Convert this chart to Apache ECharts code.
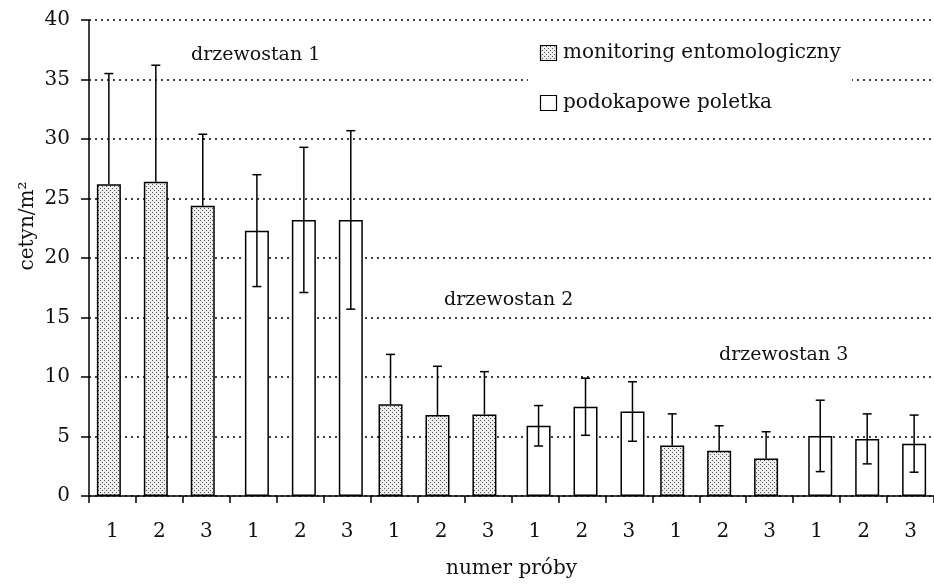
<!DOCTYPE html>
<html>
<head>
<meta charset="utf-8">
<script src="https://cdn.jsdelivr.net/npm/echarts@6/dist/echarts.min.js"></script>
<style>html,body{margin:0;padding:0;background:#fff}#c{width:934px;height:585px}</style>
</head>
<body>
<div id="c"></div>
<script>
// ---- data ----
const categories = ['1','2','3','1','2','3','1','2','3','1','2','3','1','2','3','1','2','3'];
const monitoring    = [26.2, 26.4, 24.4, null, null, null, 7.7, 6.8, 6.85, null, null, null, 4.25, 3.8, 3.15, null, null, null];
const monitoringErr = [9.3, 9.8, 6.0, null, null, null, 4.2, 4.1, 3.6, null, null, null, 2.65, 2.1, 2.25, null, null, null];
const poletka       = [null, null, null, 22.3, 23.2, 23.2, null, null, null, 5.9, 7.5, 7.1, null, null, null, 5.05, 4.8, 4.4];
const poletkaErr    = [null, null, null, 4.7, 6.1, 7.5, null, null, null, 1.7, 2.4, 2.5, null, null, null, 3.0, 2.1, 2.4];
const seriesNames = ['monitoring entomologiczny', 'podokapowe poletka'];
const standLabels = ['drzewostan 1', 'drzewostan 2', 'drzewostan 3'];
const yTicks = {min: 0, max: 40, interval: 5};

// ---- style ----
const FONT = 'DejaVu Serif';
const FS = 19;
const BAR_W = 24;
const BAR_GAP = -0.7;
const totalW = BAR_W * 2 + BAR_W * BAR_GAP;
const offsets = [-totalW / 2 + BAR_W / 2, totalW / 2 - BAR_W / 2];

function makePattern() {
  const c = document.createElement('canvas');
  c.width = 4; c.height = 4;
  const g = c.getContext('2d');
  g.fillStyle = '#eeeeee';
  g.fillRect(0, 0, 4, 4);
  g.fillStyle = '#555555';
  g.fillRect(0, 0, 1, 1);
  g.fillRect(2, 2, 1, 1);
  return c;
}
const pat = makePattern();
const dotFill = {image: pat, repeat: 'repeat'};

function errData(vals, errs) {
  const out = [];
  vals.forEach((v, i) => { if (v != null) out.push([i, v, errs[i]]); });
  return out;
}

function errRender(offset, plusOnly) {
  return function (params, api) {
    const i = api.value(0), v = api.value(1), e = api.value(2);
    const top = api.coord([i, v + e]);
    const low = api.coord([i, plusOnly ? v : v - e]);
    const x = top[0] + offset;
    const cap = 4.5;
    const st = {stroke: '#000', lineWidth: 1.5};
    const children = [
      {type: 'line', shape: {x1: x, y1: top[1], x2: x, y2: low[1]}, style: st},
      {type: 'line', shape: {x1: x - cap, y1: top[1], x2: x + cap, y2: top[1]}, style: st}
    ];
    if (!plusOnly) children.push({type: 'line', shape: {x1: x - cap, y1: low[1], x2: x + cap, y2: low[1]}, style: st});
    return {type: 'group', children: children};
  };
}

const chart = echarts.init(document.getElementById('c'), null, {renderer: 'canvas'});
const txt = {fontFamily: FONT, fontSize: FS, fill: '#111'};

chart.setOption({
  backgroundColor: '#fff',
  animation: false,
  textStyle: {fontFamily: FONT},
  grid: {left: 89, top: 20, width: 849.6, height: 476, containLabel: false},
  xAxis: {
    type: 'category',
    data: categories,
    boundaryGap: true,
    axisLine: {lineStyle: {color: '#000', width: 1.5}},
    axisTick: {show: true, interval: 0, length: 7, lineStyle: {color: '#000', width: 1.5}},
    axisLabel: {interval: 0, margin: 26, color: '#111', fontFamily: FONT, fontSize: 20},
    name: 'numer próby',
    nameLocation: 'middle',
    nameGap: 63,
    nameTextStyle: {color: '#111', fontFamily: FONT, fontSize: 20}
  },
  yAxis: {
    type: 'value',
    min: yTicks.min, max: yTicks.max, interval: yTicks.interval,
    axisLine: {show: true, lineStyle: {color: '#000', width: 1.5}},
    axisTick: {show: true, length: 8, lineStyle: {color: '#000', width: 1.5}},
    axisLabel: {margin: 19, color: '#111', fontFamily: FONT, fontSize: 20},
    splitLine: {show: true, lineStyle: {color: '#000', width: 1.5, type: [2, 4]}}
  },
  series: [
    {
      name: seriesNames[0], type: 'bar', data: monitoring,
      barWidth: BAR_W, barGap: (BAR_GAP * 100) + '%',
      itemStyle: {color: dotFill, borderColor: '#000', borderWidth: 1.5}
    },
    {
      name: seriesNames[1], type: 'bar', data: poletka,
      barWidth: BAR_W, barGap: (BAR_GAP * 100) + '%',
      itemStyle: {color: '#fff', borderColor: '#000', borderWidth: 1.5}
    },
    {
      type: 'custom', z: 5, data: errData(monitoring, monitoringErr),
      renderItem: errRender(offsets[0], true), encode: {x: 0, y: 1}
    },
    {
      type: 'custom', z: 5, data: errData(poletka, poletkaErr),
      renderItem: errRender(offsets[1], false), encode: {x: 0, y: 1}
    }
  ],
  graphic: [
    {type: 'text', z: 20, x: 28, y: 226, rotation: Math.PI / 2,
     style: Object.assign({text: 'cetyn/m²', align: 'center', verticalAlign: 'middle'}, txt, {fontSize: 20})},
    {type: 'text', z: 20, x: 191, y: 55, style: Object.assign({text: standLabels[0], align: 'left', verticalAlign: 'middle'}, txt)},
    {type: 'text', z: 20, x: 444, y: 300, style: Object.assign({text: standLabels[1], align: 'left', verticalAlign: 'middle'}, txt)},
    {type: 'text', z: 20, x: 719, y: 355, style: Object.assign({text: standLabels[2], align: 'left', verticalAlign: 'middle'}, txt)},
    {type: 'rect', z: 15, shape: {x: 528, y: 36, width: 324, height: 90}, style: {fill: '#fff'}},
    {type: 'rect', z: 20, shape: {x: 540.5, y: 45.5, width: 16, height: 15}, style: {fill: dotFill, stroke: '#000', lineWidth: 1.2}},
    {type: 'text', z: 20, x: 563, y: 53, style: Object.assign({text: seriesNames[0], align: 'left', verticalAlign: 'middle'}, txt, {fontSize: 20})},
    {type: 'rect', z: 20, shape: {x: 540.5, y: 95.5, width: 16, height: 15}, style: {fill: '#fff', stroke: '#000', lineWidth: 1.2}},
    {type: 'text', z: 20, x: 563, y: 103, style: Object.assign({text: seriesNames[1], align: 'left', verticalAlign: 'middle'}, txt, {fontSize: 20})}
  ]
});
</script>
</body>
</html>
